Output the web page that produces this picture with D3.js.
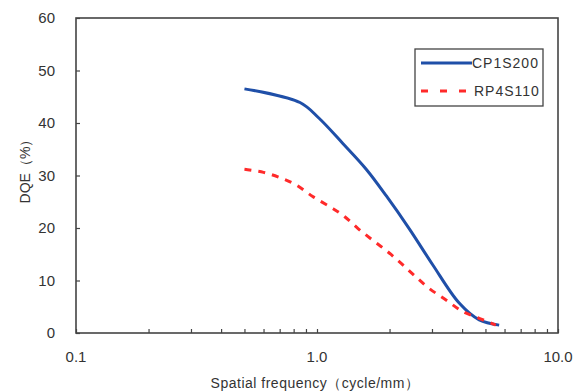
<!DOCTYPE html>
<html><head><meta charset="utf-8">
<script src="https://cdn.jsdelivr.net/npm/d3@7"></script>
<style>body{margin:0;background:#fff}svg{display:block}text{font-family:"Liberation Sans",Arial,sans-serif;fill:#333}</style>
</head><body>
<script>
const seriesNames = ["CP1S200", "RP4S110"];
const cpFreq = [0.5, 0.85, 1.02, 1.28, 1.6, 1.94, 2.42, 3.02, 3.89, 4.71, 5.7];
const cpDQE  = [46.5, 43.9, 40.9, 36.1, 31.2, 26.1, 19.8, 13.0, 5.7, 2.5, 1.5];
const rpFreq = [0.5, 0.6, 0.71, 0.82, 0.96, 1.145, 1.3, 1.48, 1.7, 1.94, 2.23, 2.53, 2.92, 3.43, 4.02, 4.71, 5.52];
const rpDQE  = [31.2, 30.6, 29.5, 28.2, 26.0, 23.9, 22.2, 19.9, 17.7, 15.7, 13.3, 11.0, 8.5, 6.3, 4.1, 2.8, 1.5];
const xTickVals = [0.1, 1, 10];
const xTickLabels = ["0.1", "1.0", "10.0"];
const yTickVals = [0, 10, 20, 30, 40, 50, 60];

const W = 576, H = 392;
const m = {l: 76, r: 18, t: 18, b: 59};
const svg = d3.select("body").append("svg").attr("width", W).attr("height", H);
const x = d3.scaleLog().domain([0.1, 10]).range([m.l, W - m.r]);
const y = d3.scaleLinear().domain([0, 60]).range([H - m.b, m.t]);
const ink = "#444";

const minor = [];
for (const d of [0.1, 1]) for (let k = 2; k <= 9; k++) minor.push(d * k);
const xAxis = d3.axisBottom(x).tickValues(xTickVals.concat(minor)).tickSize(-4).tickFormat(() => "");
svg.append("g").attr("transform", `translate(0,${y(0)})`).call(xAxis)
  .call(g => { g.select(".domain").remove(); g.selectAll("line").attr("stroke", ink).attr("stroke-width", 1.2); });
svg.append("g").selectAll("text").data(xTickVals).join("text")
  .attr("x", d => x(d)).attr("y", y(0) + 29).attr("text-anchor", "middle")
  .attr("font-size", 15).text((d, i) => xTickLabels[i]);

const yAxis = d3.axisLeft(y).tickValues(yTickVals).tickSize(-4).tickPadding(21).tickFormat(d3.format("d"));
svg.append("g").attr("transform", `translate(${m.l},0)`).call(yAxis)
  .call(g => { g.select(".domain").remove(); g.selectAll("line").attr("stroke", ink).attr("stroke-width", 1.2);
    g.selectAll("text").attr("font-size", 15).style("font-family", '"Liberation Sans",Arial,sans-serif').attr("fill", "#333"); });

svg.append("rect").attr("x", m.l).attr("y", m.t).attr("width", W - m.r - m.l).attr("height", y(0) - m.t)
  .attr("fill", "none").attr("stroke", ink).attr("stroke-width", 1.6);

const line = d3.line().x(d => x(d[0])).y(d => y(d[1])).curve(d3.curveCatmullRom.alpha(0.5));
svg.append("path").datum(cpFreq.map((f, i) => [f, cpDQE[i]])).attr("d", line)
  .attr("fill", "none").attr("stroke", "#1f4fa8").attr("stroke-width", 3);
svg.append("path").datum(rpFreq.map((f, i) => [f, rpDQE[i]])).attr("d", line)
  .attr("fill", "none").attr("stroke", "#ff2a2a").attr("stroke-width", 3).attr("stroke-dasharray", "7,7");

const lg = svg.append("g");
lg.append("rect").attr("x", 415).attr("y", 49).attr("width", 128).attr("height", 57)
  .attr("fill", "#fff").attr("stroke", ink).attr("stroke-width", 1.3);
lg.append("line").attr("x1", 421).attr("x2", 472).attr("y1", 63).attr("y2", 63)
  .attr("stroke", "#1f4fa8").attr("stroke-width", 3);
lg.append("line").attr("x1", 421).attr("x2", 472).attr("y1", 91).attr("y2", 91)
  .attr("stroke", "#ff2a2a").attr("stroke-width", 3).attr("stroke-dasharray", "7,12");
lg.append("text").attr("x", 472).attr("y", 68).attr("font-size", 14).attr("letter-spacing", 1).text(seriesNames[0]);
lg.append("text").attr("x", 474).attr("y", 96).attr("font-size", 14).attr("letter-spacing", 1).text(seriesNames[1]);

svg.append("text").attr("x", 315).attr("y", 388).attr("text-anchor", "middle").attr("font-size", 14)
  .attr("letter-spacing", 0.5).text("Spatial frequency（cycle/mm）");
svg.append("text").attr("transform", "translate(30,168) rotate(-90)").attr("text-anchor", "middle")
  .attr("font-size", 14).text("DQE（%）");
</script>
</body></html>
